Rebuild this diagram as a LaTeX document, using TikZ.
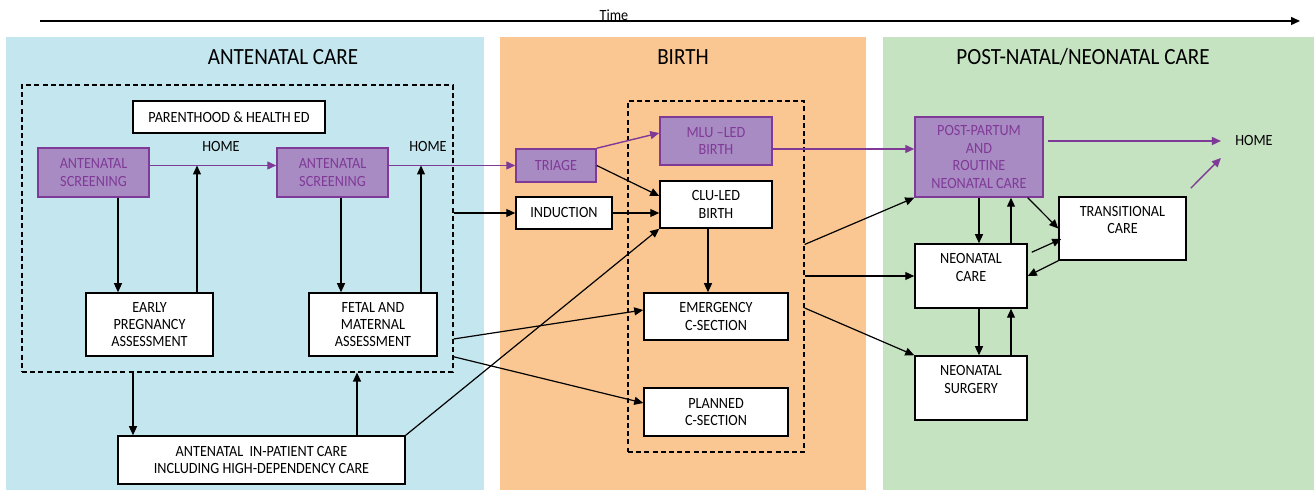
\documentclass[tikz,border=0pt]{standalone}
\usepackage{fontspec}
\setmainfont[FakeStretch=0.91]{Carlito}
\usetikzlibrary{arrows.meta}
\definecolor{antebg}{HTML}{C3E6EF}
\definecolor{birthbg}{HTML}{FAC793}
\definecolor{postbg}{HTML}{C5E2C1}
\definecolor{pfill}{HTML}{A98BC3}
\definecolor{pline}{HTML}{7F3A97}
\tikzset{
  box/.style={draw, fill=white, line width=0.75pt, align=center, inner sep=0pt,
    font=\fontsize{7.8}{8.7}\selectfont},
  pbox/.style={box, draw=pline, fill=pfill, text=pline},
  group/.style={draw, line width=0.6pt, dash pattern=on 2.5pt off 1.6pt, inner sep=0pt},
  link/.style={-{Triangle[length=4.5pt,width=4pt]}, line width=0.6pt},
  plink/.style={link, draw=pline, fill=pline, line width=0.7pt},
  lbl/.style={inner sep=0pt, font=\fontsize{7.8}{8.7}\selectfont},
  title/.style={inner sep=0pt, font=\fontsize{11.6}{13}\selectfont},
}
\begin{document}
\begin{tikzpicture}[x=0.5pt, y=-0.5pt]
  \useasboundingbox (0,0) rectangle (1314,490);
  % panels
  \fill[antebg] (6,37) rectangle (484,490);
  \fill[birthbg] (500,37) rectangle (866,490);
  \fill[postbg] (883,37) rectangle (1314,490);
  % time axis
  \coordinate (t0) at (40,21);
  \coordinate (t1) at (1300,21);
  \draw[link, line width=0.7pt] (t0) -- (t1);
  \node[lbl] (time) at (614,15) {Time};
  \node[title] (ante) at (283,57) {ANTENATAL CARE};
  \node[title] (birth) at (683,57) {BIRTH};
  \node[title] (post) at (1083,57) {POST-NATAL/NEONATAL CARE};
  % groups
  \node[group, minimum width=215.5pt, minimum height=143.5pt] (anteg) at (237.5,228.5) {};
  \node[group, minimum width=88pt, minimum height=175.5pt] (birthg) at (716,276.5) {};
  % antenatal
  \node[box, minimum width=96pt, minimum height=16pt] (parent) at (229,117) {PARENTHOOD \& HEALTH ED};
  \node[pbox, minimum width=55.5pt, minimum height=24.5pt] (scr1) at (93.5,172.5) {ANTENATAL\\SCREENING};
  \node[pbox, minimum width=55.5pt, minimum height=24.5pt] (scr2) at (332.5,172.5) {ANTENATAL\\SCREENING};
  \node[lbl] (home1) at (221,147) {HOME};
  \node[lbl] (home2) at (428,147) {HOME};
  \node[box, minimum width=63.5pt, minimum height=31.5pt] (early) at (149.5,324.5) {EARLY\\PREGNANCY\\ASSESSMENT};
  \node[box, minimum width=64pt, minimum height=31.5pt] (fetal) at (373,324.5) {FETAL AND\\MATERNAL\\ASSESSMENT};
  \node[box, minimum width=143.5pt, minimum height=24pt] (inpat) at (261.5,460) {ANTENATAL\ \ IN-PATIENT CARE\\INCLUDING HIGH-DEPENDENCY CARE};
  % birth
  \node[pbox, minimum width=40pt, minimum height=16.5pt] (triage) at (556,165.5) {TRIAGE};
  \node[box, minimum width=48pt, minimum height=16pt] (induct) at (564,213) {INDUCTION};
  \node[pbox, minimum width=56pt, minimum height=24pt] (mlu) at (716,141) {MLU --LED\\BIRTH};
  \node[box, minimum width=56pt, minimum height=23.5pt] (clu) at (716,204.5) {CLU-LED\\BIRTH};
  \node[box, minimum width=72pt, minimum height=23.5pt] (emerg) at (716,316.5) {EMERGENCY\\C-SECTION};
  \node[box, minimum width=72pt, minimum height=24pt] (plann) at (716,412) {PLANNED\\C-SECTION};
  % post-natal
  \node[pbox, minimum width=64pt, minimum height=40pt] (pp) at (979,157) {POST-PARTUM\\AND\\ROUTINE\\NEONATAL CARE};
  \node[box, minimum width=63.5pt, minimum height=31.5pt] (trans) at (1122.5,228.5) {TRANSITIONAL\\CARE\\~};
  \node[box, minimum width=56pt, minimum height=32pt] (neo) at (971,276) {NEONATAL\\CARE\\~};
  \node[box, minimum width=56pt, minimum height=32pt] (surg) at (971,388) {NEONATAL\\SURGERY\\~};
  \node[lbl] (home3) at (1254,141) {HOME};
  % purple path
  \draw[plink] (scr1.east |- triage.west) -- (scr2.west |- triage.west);
  \draw[plink] (scr2.east |- triage.west) -- (triage.west);
  \draw[plink] (triage.north east) -- ([yshift=4pt]mlu.west);
  \draw[plink] ([yshift=-4pt]mlu.east) -- ([yshift=-4pt]mlu.east -| pp.west);
  \draw[plink, shorten <=2pt, shorten >=7pt] (pp.east |- home3.west) -- (home3.west);
  \draw[plink] ([shift={(2pt,4pt)}]trans.north east) -- ([shift={(-7pt,-8.5pt)}]home3.west);
  % antenatal links
  \draw[link] ([xshift=12.25pt]scr1.south) -- ([xshift=12.25pt]scr1.south |- early.north);
  \draw[link] ([xshift=23.75pt]early.north) -- ([xshift=23.75pt]early.north |- triage.west);
  \draw[link] ([xshift=4.25pt]scr2.south) -- ([xshift=4.25pt]scr2.south |- fetal.north);
  \draw[link] ([xshift=24pt]fetal.north) -- ([xshift=24pt]fetal.north |- triage.west);
  \draw[link] ([xshift=-64.25pt]inpat.north |- anteg.south) -- ([xshift=-64.25pt]inpat.north);
  \draw[link] ([xshift=47.75pt]inpat.north) -- ([xshift=47.75pt]inpat.north |- anteg.south);
  % into birth
  \draw[link] (anteg.east |- induct.west) -- (induct.west);
  \draw[link] ([yshift=-7.25pt]fetal.east -| anteg.east) -- ([yshift=3.25pt]emerg.west);
  \draw[link] (fetal.south east -| anteg.east) -- ([yshift=4.5pt]plann.west);
  \draw[link] (inpat.north east) -- (clu.south west);
  \draw[link] (triage.east) -- ([yshift=4.25pt]clu.west);
  \draw[link] (induct.east) -- (induct.east -| clu.west);
  \draw[link] ([xshift=-4pt]clu.south) -- ([xshift=-4pt]clu.south |- emerg.north);
  % into post-natal
  \draw[link] ([yshift=16pt]birthg.east) -- (pp.south west);
  \draw[link] (birthg.east |- neo.west) -- (neo.west);
  \draw[link] ([yshift=-15.75pt]birthg.east) -- (surg.north west);
  \draw[link] (pp.south) -- (pp.south |- neo.north);
  \draw[link] ([xshift=16pt]pp.south |- neo.north) -- ([xshift=16pt]pp.south);
  \draw[link] (pp.south |- neo.south) -- (pp.south |- surg.north);
  \draw[link] ([xshift=16pt]pp.south |- surg.north) -- ([xshift=16pt]pp.south |- neo.south);
  \draw[link] ([xshift=-8pt]pp.south east) -- (trans.west);
  \draw[link] ([shift={(2pt,-4.5pt)}]neo.north east) -- ([shift={(1.5pt,-5.25pt)}]trans.west);
  \draw[link] (trans.south west) -- (neo.east);
\end{tikzpicture}
\end{document}
